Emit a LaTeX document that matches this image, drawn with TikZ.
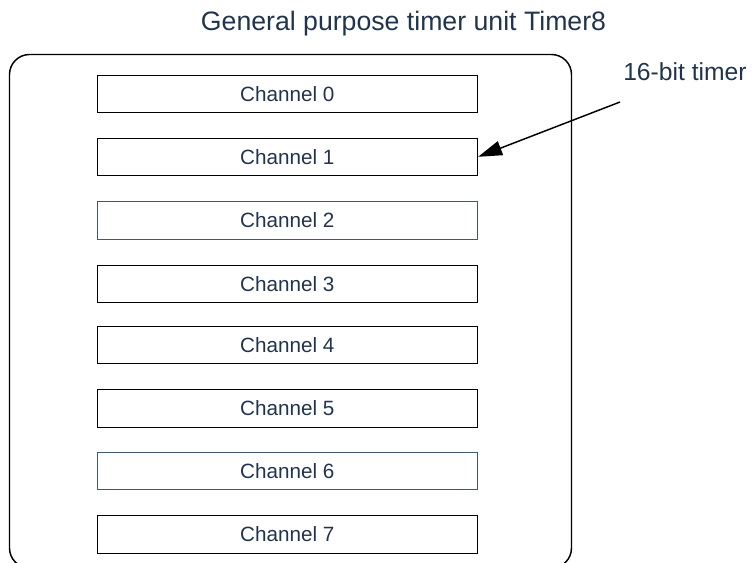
\documentclass[tikz,border=0pt]{standalone}
\usepackage{fontspec}
\setmainfont{Liberation Sans}
\usepackage{tikz}
\usetikzlibrary{arrows.meta}
\definecolor{labelnavy}{RGB}{33,52,77}
\definecolor{edgeblue}{RGB}{62,88,118}
\tikzset{
    chanbox/.style={draw, line width=0.8pt, minimum width=285.4pt, minimum height=28.1pt,
        inner sep=0pt, text=labelnavy, font=\fontsize{15.5}{18}\selectfont},
    titletext/.style={text=labelnavy, inner sep=0pt, font=\fontsize{20}{24}\selectfont},
}

\begin{document}
\begin{tikzpicture}[x=0.75pt, y=-0.75pt]
        \useasboundingbox (0,0) rectangle (756,562);

        \draw[line width=1.1pt, rounded corners=15pt] (9.5,54.5) rectangle (571.5,568);

        \node[titletext, anchor=base] (title) at (403.5,30.7) {General purpose timer unit Timer8};

        \node[chanbox] (ch0) at (287.3,93.8) {Channel 0};
        \node[chanbox] (ch1) at (287.3,156.8) {Channel 1};
        \node[chanbox, draw=edgeblue] (ch2) at (287.3,220.3) {Channel 2};
        \node[chanbox] (ch3) at (287.3,283.8) {Channel 3};
        \node[chanbox] (ch4) at (287.3,344.8) {Channel 4};
        \node[chanbox] (ch5) at (287.3,408.3) {Channel 5};
        \node[chanbox, draw=edgeblue] (ch6) at (287.3,471.2) {Channel 6};
        \node[chanbox] (ch7) at (287.3,534.5) {Channel 7};

        \node[titletext, anchor=base west, font=\fontsize{18.5}{22}\selectfont] (bitlabel) at (623,80) {16-bit timer};
        \coordinate (bittail) at (620,102);
        \draw[-{Triangle[length=18pt, width=11pt]}, line width=1.1pt] (bittail) -- (ch1.east);
    \end{tikzpicture}
\end{document}
